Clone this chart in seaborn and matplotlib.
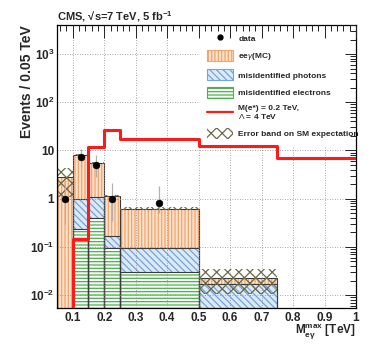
import numpy as np
import pandas as pd
import matplotlib
matplotlib.use('Agg')
import matplotlib.pyplot as plt
import seaborn as sns
from matplotlib.patches import Patch
from matplotlib.lines import Line2D

# bin edges (TeV) and contents (events / 0.05 TeV)
edges = [0.05, 0.10, 0.15, 0.20, 0.25, 0.50, 0.75, 1.00]
misid_electrons = [0.0, 0.24, 0.39, 0.093, 0.030, 0.0, 0.0]
misid_photons = [0.0, 0.76, 0.71, 0.077, 0.063, 0.0168, 0.0]
eeg_mc = [2.8, 7.1, 4.4, 0.98, 0.527, 0.0055, 0.0]
signal = [0.001, 0.145, 11.8, 26.5, 17.3, 12.4, 7.0]
band_lo = [1.1, 7.6, 5.2, 1.08, 0.58, 0.0105, 0.0]
band_hi = [4.4, 8.6, 5.8, 1.22, 0.66, 0.034, 0.0]

data_x = [0.075, 0.125, 0.175, 0.225, 0.375]
data_y = [1.0, 7.3, 5.0, 1.0, 0.82]
data_lo = [0.3, 4.6, 2.8, 0.35, 0.5]
data_hi = [2.3, 10.5, 8.0, 2.1, 1.8]

xtick_vals = [0.1, 0.2, 0.3, 0.4, 0.5, 0.6, 0.7, 0.8, 0.9, 1.0]
xtick_labels = ['0.1', '0.2', '0.3', '0.4', '0.5', '0.6', '0.7', '0.8', '0.9', '1']
ytick_vals = [0.01, 0.1, 1, 10, 100, 1000]
ytick_labels = [r'$\mathbf{10^{-2}}$', r'$\mathbf{10^{-1}}$', '1', '10',
                r'$\mathbf{10^{2}}$', r'$\mathbf{10^{3}}$']

sns.set_style('white')
plt.rcParams['font.family'] = ['Liberation Sans', 'DejaVu Sans']
plt.rcParams['mathtext.fontset'] = 'custom'
plt.rcParams['mathtext.rm'] = 'Liberation Sans'
plt.rcParams['mathtext.it'] = 'Liberation Sans:italic'
plt.rcParams['mathtext.bf'] = 'Liberation Sans:bold'
plt.rcParams['hatch.linewidth'] = 0.9

centers = [(a + b) / 2 for a, b in zip(edges[:-1], edges[1:])]
lay_green = np.array(misid_electrons)
lay_blue = lay_green + np.array(misid_photons)
lay_orange = lay_blue + np.array(eeg_mc)

fig = plt.figure(figsize=(3.74, 3.54), dpi=100)
ax = fig.add_axes([57 / 374, 1 - 308 / 354, 299 / 374, 283 / 354])

# stacked histograms (cumulative layers, biggest first)
layers = [
    (lay_orange, '#fde2cc', '#f4a36c', '|||||'),
    (lay_blue, '#dde9f6', '#6fa6dc', '\\\\\\\\\\'),
    (lay_green, 'white', '#48b348', '-----'),
]
for vals, fc, hc, hatch in layers:
    sns.histplot(x=centers, weights=vals, bins=edges, element='bars', ax=ax,
                 color=fc, alpha=1, hatch=hatch, edgecolor=hc, linewidth=0)
for vals, fc, hc, hatch in layers:
    sns.histplot(x=centers, weights=vals, bins=edges, element='bars', ax=ax,
                 fill=False, color='#3a3a3a', linewidth=0.8)

# error band
ax.fill_between(edges, band_lo + [band_lo[-1]], band_hi + [band_hi[-1]], step='post',
                facecolor='none', hatch='xxx', edgecolor='#6b6b48', linewidth=0, zorder=2)

# grid drawn by hand so the legend box can hide it but not the ticks
for xv in xtick_vals[:-1]:
    ax.axvline(xv, color='#8a8a8a', linestyle=(0, (1, 2)), linewidth=0.6, zorder=1.8)
for yv in ytick_vals:
    ax.axhline(yv, color='#8a8a8a', linestyle=(0, (1, 2)), linewidth=0.6, zorder=1.8)

# signal
sns.histplot(x=centers, weights=signal, bins=edges, element='step', fill=False,
             color='#ff1a1a', linewidth=2.2, ax=ax, zorder=3)

# data
ax.vlines(data_x, data_lo, data_hi, color='#b0b0b0', linewidth=0.9, zorder=3.5)
sns.scatterplot(x=data_x, y=data_y, color='black', s=24, edgecolor='black', ax=ax, zorder=4)

ax.set_yscale('log')
ax.set_xlim(0.05, 1.0)
ax.set_ylim(0.0054, 4000)
ax.set_axisbelow(False)

ax.set_xticks(xtick_vals)
ax.set_xticklabels(xtick_labels)
ax.set_xticks(np.arange(0.06, 1.0, 0.02), minor=True)
ax.set_yticks(ytick_vals)
ax.set_yticklabels(ytick_labels)
ax.yaxis.set_minor_locator(matplotlib.ticker.LogLocator(base=10, subs=np.arange(2, 10)))
ax.yaxis.set_minor_formatter(matplotlib.ticker.NullFormatter())
ax.tick_params(axis='both', which='both', direction='in', top=True, right=True,
               labelsize=8.5, width=0.7, color='#222222')
ax.tick_params(axis='x', which='major', length=9, pad=3)
ax.tick_params(axis='x', which='minor', length=4.5)
ax.tick_params(axis='y', which='major', length=8, pad=2)
ax.tick_params(axis='y', which='minor', length=4)
for lab in ax.get_xticklabels() + ax.get_yticklabels():
    lab.set_fontweight('bold')
for sp in ax.spines.values():
    sp.set_color('black')
    sp.set_linewidth(0.9)

ax.set_ylabel('Events / 0.05 TeV', fontsize=10, fontweight='bold', loc='top')
ax.yaxis.set_label_coords(-0.078, 1.0)
ax.set_xlabel(r'$\mathbf{M_{e\gamma}^{max}}$ [TeV]', fontsize=8.5, fontweight='bold', loc='right')
ax.xaxis.set_label_coords(1.0, -0.052)
ax.set_title('CMS, \u221as=7 TeV, 5 fb$^{\\mathbf{-1}}$', loc='left',
             fontsize=8, fontweight='bold', pad=3)

handles = [
    Line2D([], [], marker='o', color='black', linestyle='none', markersize=3.5),
    Patch(facecolor='#fde2cc', hatch='|||||', edgecolor='#f4a36c', linewidth=0.8),
    Patch(facecolor='#dde9f6', hatch='\\\\\\\\\\', edgecolor='#6fa6dc', linewidth=0.8),
    Patch(facecolor='white', hatch='-----', edgecolor='#48b348', linewidth=0.8),
    Line2D([], [], color='#ff1a1a', linewidth=1.6),
    Patch(facecolor='white', hatch='xxx', edgecolor='#6b6b48', linewidth=0),
]
labels = ['data', r'ee$\gamma$(MC)', 'misidentified photons', 'misidentified electrons',
          'M(e*) = 0.2 TeV,\n$\\Lambda$ = 4 TeV', 'Error band on SM expectation']
leg = ax.legend(handles, labels, loc='upper left', bbox_to_anchor=(0.476, 1.0),
                borderaxespad=0, borderpad=0.9, frameon=True, fancybox=False, framealpha=1,
                facecolor='white', edgecolor='none', prop={'size': 6, 'weight': 'bold'},
                handlelength=3.2, handleheight=1.6, labelspacing=0.85, handletextpad=0.6)
for t in leg.get_texts():
    t.set_linespacing(1.0)
leg.set_zorder(2.2)

fig.savefig('out.png', dpi=100)
